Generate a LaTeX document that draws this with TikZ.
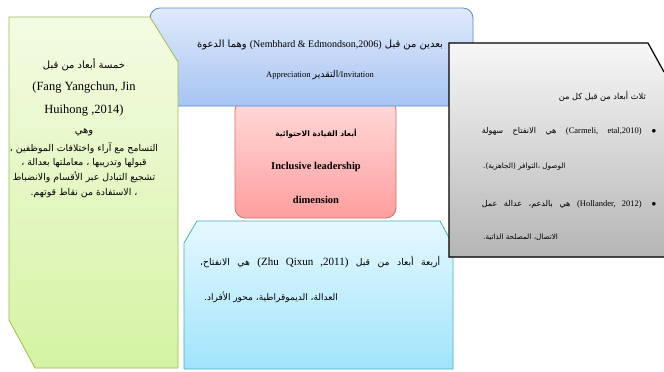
\documentclass[tikz,border=0pt]{standalone}
\usepackage{fontspec}
\setmainfont{Liberation Serif}
\newfontfamily\arabicfont[Script=Arabic]{DejaVu Sans}
\TeXXeTstate=1
\makeatletter
\newcommand\ar[2][1]{{\edef\latsize{\f@size}\arabicfont
  \fontsize{\fpeval{#1*\f@size}}{\f@baselineskip}\selectfont\beginR #2\endR}}
\newcommand\la[1]{\beginL{\rmfamily\fontsize{\latsize}{\f@baselineskip}\selectfont #1}\endL}
\makeatother

\definecolor{greenline}{HTML}{9BBB59}
\definecolor{greentop}{HTML}{F4FBE3}
\definecolor{greenbot}{HTML}{D4F3A2}
\definecolor{blueline}{HTML}{5B8BCB}
\definecolor{bluetop}{HTML}{E0EAFB}
\definecolor{bluebot}{HTML}{A6C4F2}
\definecolor{pinkline}{HTML}{D0706C}
\definecolor{pinktop}{HTML}{FFDADA}
\definecolor{pinkbot}{HTML}{FF9E9E}
\definecolor{cyanline}{HTML}{4BACC6}
\definecolor{cyantop}{HTML}{E6F8FF}
\definecolor{cyanbot}{HTML}{A0E4FB}
\definecolor{graytop}{HTML}{F7F7F7}
\definecolor{graybot}{HTML}{B5B5B5}

\begin{document}
\begin{tikzpicture}[x=1pt,y=-1pt, txt/.style={inner sep=0pt, align=center}]

\useasboundingbox (0,0) rectangle (664,372);

\fill[white] (0,0) rectangle (664,372);

\draw[pinkline, thick, top color=pinktop, bottom color=pinkbot, rounded corners=10pt]
  (235,100) rectangle (396,218);
\draw[cyanline, thick, top color=cyantop, bottom color=cyanbot]
  (197,221) -- (440,221) -- (453,245) -- (453,369) -- (184,369) -- (184,243) -- cycle;
\draw[blueline, thick, top color=bluetop, bottom color=bluebot, rounded corners=10pt]
  (150,8) rectangle (473,106);
\draw[greenline, thick, top color=greentop, bottom color=greenbot]
  (9,17) -- (150,17) -- (178,62) -- (178,368) -- (35,368) -- (9,320) -- cycle;
\fill[top color=graytop, bottom color=graybot] (449,43) -- (648,43) -- (664,72) -- (664,257) -- (449,257) -- cycle;
\draw[very thick] (664,72) -- (648,43) -- (449,43) -- (449,257) -- (664,257);

\node[txt, anchor=north, font=\fontsize{12.5}{14.7}\selectfont] (five) at (84,58) {%
  \ar[0.8]{خمسة أبعاد من قبل}\\[7.3pt]
  (Fang Yangchun, Jin\\[8.3pt]
  Huihong ,2014)\\[5.3pt]
  \ar[0.8]{وهي}\\[3.3pt]
  \ar[0.75]{التسامح مع آراء واختلافات الموظفين ،}\\
  \ar[0.75]{قبولها وتدريبها ، معاملتها بعدالة ،}\\[0.3pt]
  \ar[0.75]{تشجيع التبادل عبر الأقسام والانضباط}\\[0.3pt]
  \ar[0.75]{، الاستفادة من نقاط قوتهم.}};

\node[txt, font=\fontsize{10}{30}\selectfont] (two) at (320,60) {%
  \ar[1.0]{بعدين من قبل \la{(Nembhard \& Edmondson,2006)} وهما الدعوة}\\
  {\fontsize{8.5}{30}\selectfont Appreciation \ar[1.1]{التقدير}/Invitation}};

\node[txt, font=\fontsize{10.5}{33.5}\selectfont\bfseries] (dim) at (316,166) {%
  \ar[0.72]{أبعاد القيادة الاحتوائية}\\
  Inclusive leadership\\
  dimension};

\node[txt, anchor=west, font=\fontsize{11}{14}\selectfont] (four1) at (200,262)
  {\makebox[240pt][s]{\ar[0.84]{أربعة أبعاد من قبل \la{(Zhu Qixun ,2011)} هي الانفتاح،}}};
\node[txt, anchor=west, font=\fontsize{11}{14}\selectfont] (four2) at (204,297)
  {\ar[0.82]{العدالة، الديموقراطية، محور الأفراد.}};

\node[txt, anchor=east, font=\fontsize{8.5}{12}\selectfont] (three) at (646,96)
  {\ar[0.97]{ثلاث أبعاد من قبل كل من}};
\node[txt, font=\small] (dot1) at (654,131) {$\bullet$};
\node[txt, anchor=east, font=\fontsize{8.5}{12}\selectfont] (car1) at (642,131)
  {\makebox[160pt][s]{\ar[0.95]{\la{(Carmeli, etal,2010)} هي الانفتاح سهولة}}};
\node[txt, anchor=west, font=\fontsize{8.5}{12}\selectfont] (car2) at (483,167)
  {\ar[0.85]{الوصول ،التوافر (الجاهزية).}};
\node[txt, font=\small] (dot2) at (654,204) {$\bullet$};
\node[txt, anchor=east, font=\fontsize{8.5}{12}\selectfont] (hol1) at (642,204)
  {\makebox[160pt][s]{\ar[0.95]{\la{(Hollander, 2012)} هي بالدعم، عدالة عمل}}};
\node[txt, anchor=west, font=\fontsize{8.5}{12}\selectfont] (hol2) at (483,237)
  {\ar[0.85]{الاتصال، المصلحة الذاتية.}};

\end{tikzpicture}
\end{document}
